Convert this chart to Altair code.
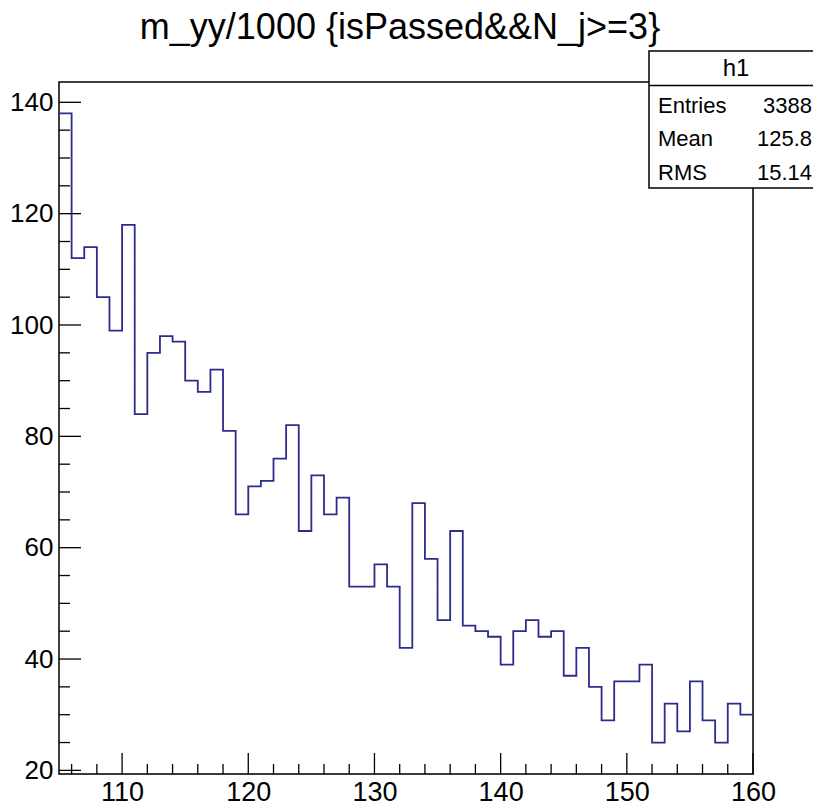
import altair as alt
import pandas as pd

# ---------------- data ----------------
bin_low = list(range(105, 160))          # left edges of 1-unit bins
counts = [138, 112, 114, 105, 99, 118, 84, 95, 98, 97, 90, 88, 92, 81, 66, 71, 72, 76, 82, 63,
          73, 66, 69, 53, 53, 57, 53, 42, 68, 58, 47, 63, 46, 45, 44,
          39, 45, 47, 44, 45, 37, 42, 35, 29, 36, 36, 39, 25, 32, 27, 36, 29, 25, 32, 30]
x_major = [110, 120, 130, 140, 150, 160]
x_minor = [106, 108, 112, 114, 116, 118, 122, 124, 126, 128, 132, 134, 136, 138,
           142, 144, 146, 148, 152, 154, 156, 158]
y_major = [20, 40, 60, 80, 100, 120, 140]
y_minor = [25, 30, 35, 45, 50, 55, 65, 70, 75, 85, 90, 95, 105, 110, 115, 125, 130, 135]
x_domain = [105, 160]
y_domain = [19.35, 143.65]
title_text = "m_yy/1000 {isPassed&&N_j>=3}"
stat_name = "h1"
stat_labels = ["Entries", "Mean", "RMS"]
stat_values = ["3388", "125.8", "15.14"]

# ---------------- layout ----------------
W, H = 694, 692
FONT = "Liberation Sans"
LINE_COLOR = "#2c2c8c"

xs = alt.Scale(domain=x_domain, nice=False, zero=False)
ys = alt.Scale(domain=y_domain, nice=False, zero=False)

ax_x = alt.Axis(values=x_major, title=None, ticks=False, tickSize=0, domain=False, grid=False,
                labelFont=FONT, labelFontSize=27, labelColor="black", labelPadding=5,
                labelFlush=False, labelOverlap=False, format="d")
ax_y = alt.Axis(values=y_major, title=None, ticks=False, tickSize=0, domain=False, grid=False,
                labelFont=FONT, labelFontSize=26, labelColor="black", labelPadding=6,
                labelFlush=False, labelOverlap=False, format="d")

step_df = pd.DataFrame({"x": bin_low + [bin_low[-1] + 1], "y": counts + [counts[-1]]})

one = pd.DataFrame({"a": [0]})

frame = alt.Chart(one).mark_rect(
    fill="white", stroke="black", strokeWidth=1.5
).encode(x=alt.value(0), x2=alt.value(W), y=alt.value(0), y2=alt.value(H))

hist = alt.Chart(step_df).mark_line(
    interpolate="step-after", color=LINE_COLOR, strokeWidth=1.8, clip=True
).encode(
    x=alt.X("x:Q", scale=xs, axis=ax_x),
    y=alt.Y("y:Q", scale=ys, axis=ax_y),
)

def xticks(vals, length):
    return alt.Chart(pd.DataFrame({"x": vals})).mark_rule(color="black", strokeWidth=1.3).encode(
        x=alt.X("x:Q", scale=xs, axis=ax_x), y=alt.value(H), y2=alt.value(H - length))

def yticks(vals, length):
    return alt.Chart(pd.DataFrame({"y": vals})).mark_rule(color="black", strokeWidth=1.3).encode(
        y=alt.Y("y:Q", scale=ys, axis=ax_y), x=alt.value(0), x2=alt.value(length))

box = alt.Chart(one).mark_rect(fill="white", stroke="black", strokeWidth=1.5).encode(
    x=alt.value(590), x2=alt.value(770), y=alt.value(-31), y2=alt.value(106))
divider = alt.Chart(one).mark_rule(color="black", strokeWidth=1.5).encode(
    x=alt.value(590), x2=alt.value(770), y=alt.value(3.5))
name_txt = alt.Chart(one).mark_text(font=FONT, fontSize=24, align="center", baseline="middle",
                                    color="black").encode(
    x=alt.value(677), y=alt.value(-13), text=alt.value(stat_name))

stat_layers = []
for i, (lab, val) in enumerate(zip(stat_labels, stat_values)):
    yb = 30.5 + i * 33.7
    stat_layers.append(alt.Chart(one).mark_text(font=FONT, fontSize=22, align="left",
                                                baseline="alphabetic", color="black").encode(
        x=alt.value(599), y=alt.value(yb), text=alt.value(lab)))
    stat_layers.append(alt.Chart(one).mark_text(font=FONT, fontSize=22, align="right",
                                                baseline="alphabetic", color="black").encode(
        x=alt.value(753), y=alt.value(yb), text=alt.value(val)))

title = alt.Chart(one).mark_text(font=FONT, fontSize=36, align="center", baseline="alphabetic",
                                 color="black").encode(
    x=alt.value(341), y=alt.value(-43), text=alt.value(title_text))

chart = alt.layer(
    frame,
    hist,
    xticks(x_minor, 10), xticks(x_major, 21),
    yticks(y_minor, 11), yticks(y_major, 22),
    box, divider, name_txt, *stat_layers, title,
).properties(
    width=W, height=H,
    autosize=alt.AutoSizeParams(type="none"),
    padding={"left": 51, "top": 74, "right": 60, "bottom": 34},
).configure_view(stroke=None).configure(background="white")

chart.save("out.html", embed_options={"renderer": "svg", "actions": False})
